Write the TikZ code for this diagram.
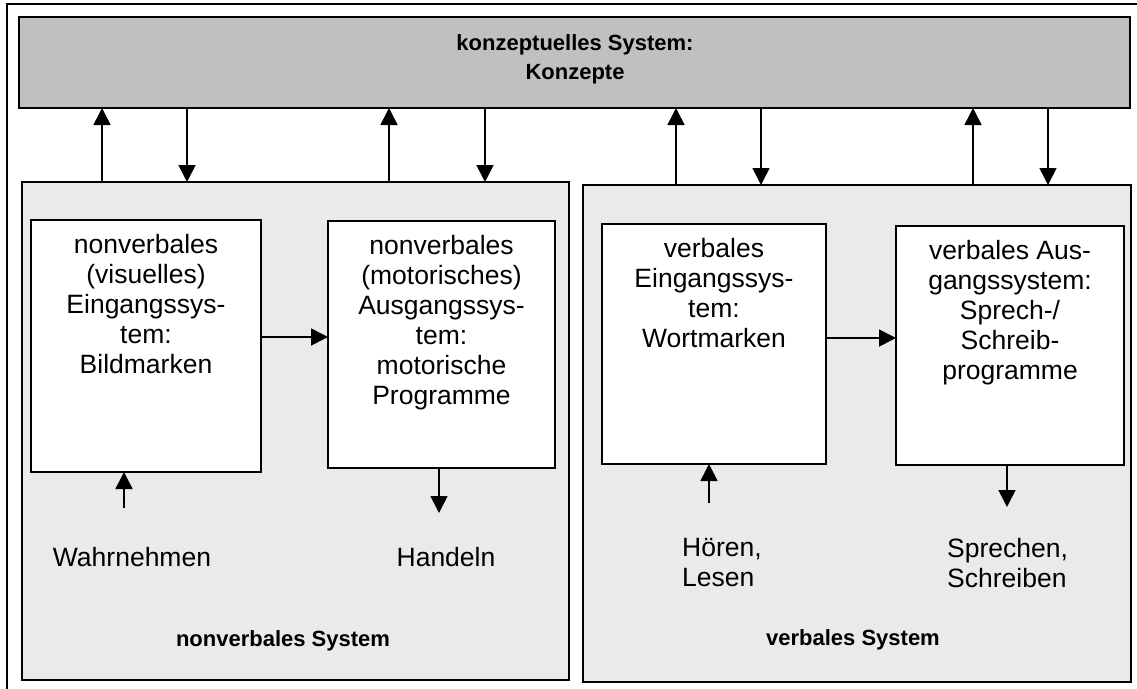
\documentclass[tikz,border=0pt]{standalone}
\usepackage{fontspec}
\setmainfont{Liberation Sans}
\usetikzlibrary{arrows.meta}
\definecolor{headgray}{HTML}{C0C0C0}
\definecolor{panelgray}{HTML}{EAEAEA}
\begin{document}
\begin{tikzpicture}[x=1pt,y=-1pt,
  corner/.style={draw=black,inner sep=0pt,outer sep=0pt,anchor=north west},
  headbox/.style={corner,line width=1.7pt,fill=headgray},
  panel/.style={corner,line width=1.8pt,fill=panelgray},
  unitbox/.style={corner,line width=1.6pt,fill=white},
  boxtext/.style={inner sep=0pt,align=center,font=\fontsize{26.5}{30}\selectfont},
  plain/.style={inner sep=0pt,font=\fontsize{26.5}{30}\selectfont},
  boldlabel/.style={inner sep=0pt,align=center,font=\bfseries\fontsize{22}{29}\selectfont},
  arr/.style={line width=1.6pt,-{Triangle[width=17pt,length=17pt]}}]
\useasboundingbox (0,0) rectangle (1137,688);

% outer frame
\draw[line width=1.7pt] (1140,4) -- (7,4) -- (7,692);

% conceptual system
\node[headbox,minimum width=1111pt,minimum height=91pt] (kon) at (19,17) {};
\node[boldlabel,anchor=north] (kont) at (575,34) {konzeptuelles System:\\Konzepte};

% the two subsystems
\node[panel,minimum width=547pt,minimum height=498pt] (lp) at (22,182) {};
\node[panel,minimum width=548pt,minimum height=497pt] (rp) at (583,185) {};

% units
\node[unitbox,minimum width=230pt,minimum height=252pt] (b1) at (31,220) {};
\node[unitbox,minimum width=227pt,minimum height=247pt] (b2) at (328,221) {};
\node[unitbox,minimum width=224pt,minimum height=240pt] (b3) at (602,224) {};
\node[unitbox,minimum width=228pt,minimum height=239pt] (b4) at (896,226) {};

\node[boxtext,anchor=north] (t1) at (b1.north |- 0,234) {nonverbales\\(visuelles)\\Eingangssys-\\tem:\\Bildmarken};
\node[boxtext,anchor=north] (t2) at (b2.north |- 0,235) {nonverbales\\(motorisches)\\Ausgangssys-\\tem:\\motorische\\Programme};
\node[boxtext,anchor=north] (t3) at (b3.north |- 0,238) {verbales\\Eingangssys-\\tem:\\Wortmarken};
\node[boxtext,anchor=north] (t4) at (b4.north |- 0,240) {verbales Aus-\\gangssystem:\\Sprech-/\\Schreib-\\programme};

% connections to the conceptual system
\coordinate (u1) at (102,0);
\coordinate (d1) at (187,0);
\coordinate (u2) at (389,0);
\coordinate (d2) at (485,0);
\coordinate (u3) at (676,0);
\coordinate (d3) at (761,0);
\coordinate (u4) at (973,0);
\coordinate (d4) at (1048,0);
\draw[arr] (lp.north -| u1) -- (kon.south -| u1);
\draw[arr] (kon.south -| d1) -- (lp.north -| d1);
\draw[arr] (lp.north -| u2) -- (kon.south -| u2);
\draw[arr] (kon.south -| d2) -- (lp.north -| d2);
\draw[arr] (rp.north -| u3) -- (kon.south -| u3);
\draw[arr] (kon.south -| d3) -- (rp.north -| d3);
\draw[arr] (rp.north -| u4) -- (kon.south -| u4);
\draw[arr] (kon.south -| d4) -- (rp.north -| d4);

% input to output
\coordinate (m1) at (0,337);
\coordinate (m2) at (0,338);
\draw[arr] (b1.east |- m1) -- (b2.west |- m1);
\draw[arr] (b3.east |- m2) -- (b4.west |- m2);

% perception and action
\coordinate (in1) at (124,508);
\coordinate (out1) at (439,513);
\coordinate (in2) at (709,503);
\coordinate (out2) at (1007,507);
\draw[arr] (in1) -- (b1.south -| in1);
\draw[arr] (b2.south -| out1) -- (out1);
\draw[arr] (in2) -- (b3.south -| in2);
\draw[arr] (b4.south -| out2) -- (out2);

\node[plain,anchor=base] (wa) at (132,566) {Wahrnehmen};
\node[plain,anchor=base] (ha) at (446,566) {Handeln};
\node[boxtext,align=left,anchor=north west] (hl) at (682,538) {Hören,\\Lesen};
\node[boxtext,align=left,anchor=north west] (ss) at (947,538) {Sprechen,\\Schreiben};

\node[boldlabel,anchor=base] (nvs) at (283,646) {nonverbales System};
\node[boldlabel,anchor=base] (vs) at (853,645) {verbales System};
\end{tikzpicture}
\end{document}
